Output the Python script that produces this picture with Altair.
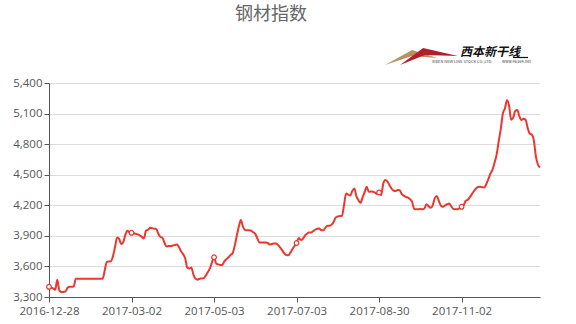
import altair as alt
import pandas as pd

title_text = "钢材指数"
logo_text = "西本新干线"
logo_sub = "XIBEN NEW LINE STOCK CO.,LTD."
logo_url = "www.96369.net"

tick_index = [0, 40, 80, 120, 160, 200]
tick_labels = ["2016-12-28", "2017-03-02", "2017-05-03", "2017-07-03", "2017-08-30", "2017-11-02"]
y_ticks = [3300, 3600, 3900, 4200, 4500, 4800, 5100, 5400]

values = [
    3400, 3392, 3385, 3370, 3470, 3365, 3350, 3350, 3355, 3390, 3400, 3400, 3405, 3480,
    3480, 3480, 3480, 3480, 3480, 3480, 3480, 3480, 3480, 3480, 3480, 3480, 3480,
    3560, 3645, 3648, 3650, 3700, 3790, 3885, 3870, 3820, 3840, 3910, 3950, 3935, 3930,
    3925, 3920, 3915, 3905, 3890, 3875, 3950, 3960, 3980, 3975, 3970, 3968, 3920, 3890,
    3880, 3830, 3795, 3800, 3800, 3805, 3810, 3815, 3790, 3750, 3720, 3680, 3590, 3580,
    3590, 3520, 3480, 3470, 3480, 3482, 3485, 3510, 3545, 3580, 3640, 3690, 3630, 3620,
    3615, 3615, 3650, 3672, 3690, 3712, 3730, 3800, 3900, 3990, 4055, 3990, 3957, 3955,
    3955, 3950, 3935, 3920, 3875, 3836, 3836, 3836, 3836, 3830, 3815, 3820, 3825, 3825,
    3810, 3787, 3760, 3730, 3712, 3710, 3735, 3770, 3800, 3830, 3880,
    3860, 3870, 3900, 3920, 3934, 3932, 3945, 3960, 3970, 3973, 3955, 3955, 3980, 4000,
    4000, 4010, 4039, 4081, 4090, 4095, 4095, 4200, 4316, 4305, 4295, 4340, 4365, 4290,
    4250, 4224, 4277, 4330, 4381, 4332, 4335, 4332, 4325,
    4310, 4326, 4300, 4410, 4447, 4435, 4400, 4365, 4345, 4340, 4350, 4348, 4310, 4295,
    4283, 4275, 4260, 4234, 4165, 4160, 4160, 4165, 4160, 4170, 4211, 4190, 4175, 4200,
    4270, 4290, 4240, 4195, 4185, 4200, 4210, 4217, 4190, 4165, 4160, 4162, 4170,
    4185, 4200, 4244, 4255, 4280, 4310, 4340, 4365, 4380, 4382, 4378, 4375, 4410, 4460,
    4510, 4550, 4620, 4700, 4830, 4950, 5100, 5150, 5230, 5180, 5040, 5060, 5125, 5135,
    5075, 5035, 5050, 5040, 4960, 4905, 4895, 4840, 4680, 4600, 4571,
]

df = pd.DataFrame({"idx": list(range(len(values))), "value": values})

label_expr = ""
for i, lab in zip(tick_index, tick_labels):
    label_expr += f"datum.value == {i} ? '{lab}' : "
label_expr += "''"

FONT = "Noto Sans CJK SC"
LFONT = "Open Sans"
W, H = 491, 214
RED = "#e8382f"
AXC = "#555555"

x_enc = alt.X(
    "idx:Q",
    scale=alt.Scale(domain=[0, len(values) - 1], nice=False, zero=False),
    axis=alt.Axis(
        values=tick_index, labelExpr=label_expr, grid=False, title=None,
        domainColor=AXC, tickColor=AXC, tickSize=5, labelColor=AXC,
        labelFontSize=11.5, labelFont=LFONT, labelPadding=3, labelOverlap=False,
        labelFlush=False, labelBaseline="top",
    ),
)
y_enc = alt.Y(
    "value:Q",
    scale=alt.Scale(domain=[y_ticks[0], y_ticks[-1]], nice=False, zero=False),
    axis=alt.Axis(
        values=y_ticks, labelExpr="format(datum.value, ',.0f')", grid=True,
        gridColor="#dcdcdc", title=None, labelOverlap=False,
        domainColor=AXC, tickColor=AXC, tickSize=5, labelColor=AXC,
        labelFontSize=11.5, labelFont=LFONT, labelPadding=2,
    ),
)

base = alt.Chart(df).encode(x=x_enc, y=y_enc)
line = base.mark_line(color=RED, strokeWidth=2, interpolate="monotone")
pts = base.transform_filter("datum.idx % 40 == 0").mark_point(
    shape="circle", filled=True, fill="white", stroke=RED, strokeWidth=1.2, size=22, opacity=1
)

title = alt.Chart(pd.DataFrame({"t": [title_text]})).mark_text(
    font=FONT, fontSize=18, color="#666666", align="center", baseline="middle"
).encode(text="t:N", x=alt.value(222), y=alt.value(-68))

logo_b = alt.Chart(pd.DataFrame({"k": ["b"]})).mark_point(
    shape="M-1,0.31L0.04,-0.27L1,0.04L0.04,-0.04Z", filled=True, color="#b8925e", size=2704, opacity=1
).encode(x=alt.value(362), y=alt.value(-26))
logo_r = alt.Chart(pd.DataFrame({"k": ["r"]})).mark_point(
    shape="M-1,0.3L-0.23,-0.27L0.93,0L-0.17,-0.03Z", filled=True, color="#b3202b", size=3600, opacity=1
).encode(x=alt.value(381), y=alt.value(-27))
logo_t = alt.Chart(pd.DataFrame({"t": [logo_text]})).mark_text(
    font=FONT, fontSize=12, fontWeight="bold", fontStyle="italic", color="#111111",
    align="left", baseline="alphabetic"
).encode(text="t:N", x=alt.value(411), y=alt.value(-27))
logo_line = alt.Chart(pd.DataFrame({"k": ["l"]})).mark_rule(color="#111111", strokeWidth=1.2).encode(
    x=alt.value(464), x2=alt.value(479), y=alt.value(-25.5)
)
logo_s = alt.Chart(pd.DataFrame({"t": [logo_sub]})).mark_text(
    font=FONT, fontSize=4, color="#444444", align="left", baseline="middle"
).encode(text="t:N", x=alt.value(383), y=alt.value(-21))
logo_u = alt.Chart(pd.DataFrame({"t": [logo_url]})).mark_text(
    font=FONT, fontSize=4, color="#444444", align="left", baseline="middle"
).encode(text="t:N", x=alt.value(453), y=alt.value(-21))

chart = alt.layer(line, pts, title, logo_b, logo_r, logo_t, logo_line, logo_s, logo_u).properties(
    width=W, height=H,
    autosize=alt.AutoSizeParams(type="none"),
    padding={"left": 49, "top": 83, "right": 36, "bottom": 27},
    background="white",
).configure_view(stroke=None)

chart.save("out.html", embed_options={"renderer": "svg", "actions": False})
